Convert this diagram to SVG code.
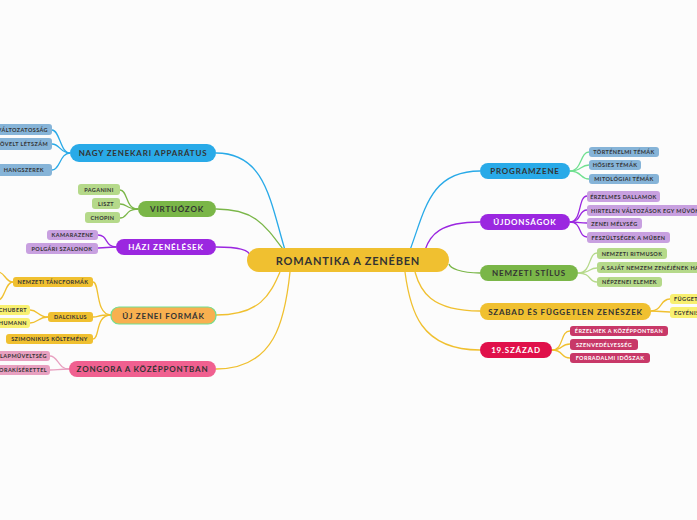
<svg xmlns="http://www.w3.org/2000/svg" width="697" height="520" viewBox="0 0 697 520">
<style>
text{font-family:Lato,"Liberation Sans",sans-serif;font-weight:bold;text-anchor:middle;dominant-baseline:central}
.m{font-size:8px;letter-spacing:0.8px;fill:#333}
.s{font-size:5.5px;letter-spacing:0.4px;fill:#333}
.st{text-anchor:start}
.en{text-anchor:end}
.w{fill:#fff}
.c{fill:none;stroke-width:1.3}
</style>
<rect width="697" height="520" fill="#fcfcfc"/>
<g id="connectors">
<path class="c" stroke="#29aae8" d="M216,153 C265,153 270,200 285,250"/>
<path class="c" stroke="#7ab648" d="M216,209 C255,209 265,225 285,252"/>
<path class="c" stroke="#9b27e0" d="M216,247 C240,247 250,250 250,256"/>
<path class="c" stroke="#f0c030" d="M216,315 C260,315 270,295 280,272"/>
<path class="c" stroke="#f0c030" d="M216,369 C275,369 285,320 290,272"/>
<path class="c" stroke="#29aae8" d="M480,171 C430,171 425,210 410,250"/>
<path class="c" stroke="#9b27e0" d="M480,222 C440,222 430,235 425,250"/>
<path class="c" stroke="#7ab648" d="M480,273 C460,273 450,268 449,264"/>
<path class="c" stroke="#f0c030" d="M480,311 C430,311 420,290 415,272"/>
<path class="c" stroke="#f0c030" d="M480,350 C420,350 410,310 405,272"/>
<g stroke="#29aae8" class="c"><path d="M70,153 C60,153 60,130 52,130"/><path d="M70,153 C60,153 60,144 52,144"/><path d="M70,153 C60,153 60,170 52,170"/></g>
<g stroke="#7ab648" class="c"><path d="M138,209 C125,209 128,190 120,190"/><path d="M138,209 C125,209 128,204 120,204"/><path d="M138,209 C125,209 128,218 120,218"/></g>
<g stroke="#9b27e0" class="c"><path d="M116,247 C105,247 108,235 98,235"/><path d="M116,247 C105,247 108,248 98,248"/></g>
<g stroke="#f0c030" class="c"><path d="M111,315 C95,315 100,282 93,282"/><path d="M111,315 C95,315 100,317 93,317"/><path d="M111,315 C95,315 100,339 93,339"/><path d="M13,282 C5,282 5,272 -2,272"/><path d="M13,282 C5,282 5,300 -2,300"/><path d="M48,317 C38,317 38,310 30,310"/><path d="M48,317 C38,317 38,323 30,323"/></g>
<g stroke="#e8a0c0" class="c"><path d="M69,369 C58,369 58,356 50,356"/><path d="M69,369 C58,369 58,370 50,370"/></g>
<g stroke="#70e090" class="c"><path d="M570,171 C582,171 580,152 589,152"/><path d="M570,171 C582,171 580,165 589,165"/><path d="M570,171 C582,171 580,179 589,179"/></g>
<g stroke="#9b27e0" class="c"><path d="M570,222 C582,222 578,196 587,196"/><path d="M570,222 C582,222 578,210 587,210"/><path d="M570,222 C582,222 578,223 587,223"/><path d="M570,222 C582,222 578,237 587,237"/></g>
<g stroke="#b5d98a" class="c"><path d="M578,273 C592,273 588,253 597,253"/><path d="M578,273 C592,273 588,268 597,268"/><path d="M578,273 C592,273 588,282 597,282"/></g>
<g stroke="#f0c030" class="c"><path d="M651,311 C662,311 660,299 670,299"/><path d="M651,311 C662,311 660,312 670,312"/><path d="M552,350 C564,350 560,331 570,331"/><path d="M552,350 C564,350 560,344 570,344"/><path d="M552,350 C564,350 560,358 570,358"/></g>
</g>
<g id="center"><rect x="247" y="248" width="202" height="24" rx="12" fill="#f0c030"/><text class="m" x="348" y="260" style="font-size:11px">ROMANTIKA A ZENÉBEN</text></g>
<g id="nagy"><rect x="70" y="144" width="146" height="18" rx="9" fill="#29aae8"/><text class="m" x="143" y="153">NAGY ZENEKARI APPARÁTUS</text>
<rect x="-10" y="124" width="62" height="11" rx="3" fill="#86b4d8"/><text class="s en" x="48" y="129.5">VÁLTOZATOSSÁG</text>
<rect x="-10" y="138" width="62" height="12" rx="3" fill="#86b4d8"/><text class="s en" x="48" y="144">MEGNÖVELT LÉTSZÁM</text>
<rect x="-10" y="164" width="62" height="12" rx="3" fill="#86b4d8"/><text class="s en" x="44" y="170">HANGSZEREK</text></g>
<g id="virtuozok"><rect x="138" y="201" width="78" height="16" rx="8" fill="#7ab648"/><text class="m" x="177" y="209">VIRTUÓZOK</text>
<rect x="78" y="184" width="42" height="11" rx="3" fill="#b5d98a"/><text class="s" x="99" y="189.5">PAGANINI</text>
<rect x="92" y="198" width="28" height="11" rx="3" fill="#b5d98a"/><text class="s" x="106" y="203.5">LISZT</text>
<rect x="85" y="212" width="35" height="11" rx="3" fill="#b5d98a"/><text class="s" x="102.5" y="217.5">CHOPIN</text></g>
<g id="hazi"><rect x="116" y="239" width="100" height="16" rx="8" fill="#9b27e0"/><text class="m w" x="166" y="247">HÁZI ZENÉLÉSEK</text>
<rect x="47" y="230" width="51" height="10" rx="3" fill="#c8a0e0"/><text class="s" x="72.5" y="235">KAMARAZENE</text>
<rect x="26" y="243" width="72" height="11" rx="3" fill="#c8a0e0"/><text class="s" x="62" y="248.5">POLGÁRI SZALONOK</text></g>
<g id="uj"><rect x="111" y="307" width="105" height="17" rx="8" fill="#f8b050" stroke="#70e090" stroke-width="1.2"/><text class="m" x="163.5" y="315.5">ÚJ ZENEI FORMÁK</text>
<rect x="13" y="277" width="80" height="10" rx="3" fill="#f0c030"/><text class="s" x="53" y="282">NEMZETI TÁNCFORMÁK</text>
<rect x="48" y="312" width="45" height="10" rx="3" fill="#f0c030"/><text class="s" x="70.5" y="317">DALCIKLUS</text>
<rect x="-10" y="305" width="40" height="10" rx="3" fill="#f8f070"/><text class="s en" x="27" y="310">SCHUBERT</text>
<rect x="-10" y="318" width="40" height="10" rx="3" fill="#f8f070"/><text class="s en" x="27" y="323">SCHUMANN</text>
<rect x="6" y="334" width="87" height="10" rx="3" fill="#f0c030"/><text class="s" x="49.5" y="339">SZIMONIKUS KÖLTEMÉNY</text></g>
<g id="zongora"><rect x="69" y="361" width="147" height="16" rx="8" fill="#f06090"/><text class="m" x="142.5" y="369">ZONGORA A KÖZÉPPONTBAN</text>
<rect x="-10" y="351" width="60" height="10" rx="3" fill="#e8a0c0"/><text class="s en" x="47" y="356">ÁLLAPMŰVELTSÉG</text>
<rect x="-10" y="365" width="60" height="10" rx="3" fill="#e8a0c0"/><text class="s en" x="47" y="370">ZONGORAKÍSÉRETTEL</text></g>
<g id="program"><rect x="480" y="163" width="90" height="16" rx="8" fill="#29aae8"/><text class="m" x="525" y="171">PROGRAMZENE</text>
<rect x="589" y="147" width="70" height="10" rx="3" fill="#86b4d8"/><text class="s" x="624" y="152">TÖRTÉNELMI TÉMÁK</text>
<rect x="589" y="160" width="52" height="10" rx="3" fill="#86b4d8"/><text class="s" x="615" y="165">HŐSIES TÉMÁK</text>
<rect x="589" y="174" width="70" height="10" rx="3" fill="#86b4d8"/><text class="s" x="624" y="179">MITOLÓGIAI TÉMÁK</text></g>
<g id="ujdonsagok"><rect x="480" y="214" width="90" height="16" rx="8" fill="#9b27e0"/><text class="m w" x="525" y="222">ÚJDONSÁGOK</text>
<rect x="587" y="191" width="73" height="11" rx="3" fill="#c8a0e0"/><text class="s" x="623.5" y="196.5">ÉRZELMES DALLAMOK</text>
<rect x="587" y="205" width="130" height="11" rx="3" fill="#c8a0e0"/><text class="s st" x="591" y="210.5">HIRTELEN VÁLTOZÁSOK EGY MŰVÖN BELÜL</text>
<rect x="587" y="218" width="55" height="11" rx="3" fill="#c8a0e0"/><text class="s" x="614.5" y="223.5">ZENEI MÉLYSÉG</text>
<rect x="587" y="232" width="83" height="11" rx="3" fill="#c8a0e0"/><text class="s" x="628.5" y="237.5">FESZÜLTSÉGEK A MŰBEN</text></g>
<g id="nemzeti"><rect x="480" y="265" width="98" height="16" rx="8" fill="#7ab648"/><text class="m" x="529" y="273">NEMZETI STÍLUS</text>
<rect x="597" y="248" width="70" height="11" rx="3" fill="#b5d98a"/><text class="s" x="632" y="253.5">NEMZETI RITMUSOK</text>
<rect x="597" y="262" width="130" height="11" rx="3" fill="#b5d98a"/><text class="s st" x="601" y="267.5">A SAJÁT NEMZEM ZENÉJÉNEK HASZNÁLATA</text>
<rect x="597" y="277" width="65" height="10" rx="3" fill="#b5d98a"/><text class="s" x="629.5" y="282">NÉPZENEI ELEMEK</text></g>
<g id="szabad"><rect x="480" y="303" width="171" height="17" rx="8" fill="#f0c030"/><text class="m" x="565.5" y="311.5">SZABAD ÉS FÜGGETLEN ZENÉSZEK</text>
<rect x="670" y="294" width="60" height="10" rx="3" fill="#f8f070"/><text class="s st" x="674" y="299">FÜGGETLENSÉG</text>
<rect x="670" y="307" width="60" height="11" rx="3" fill="#f8f070"/><text class="s st" x="674" y="312.5">EGYÉNISÉG</text></g>
<g id="szazad"><rect x="480" y="342" width="72" height="16" rx="8" fill="#e0104a"/><text class="m w" x="516" y="350">19.SZÁZAD</text>
<rect x="570" y="326" width="98" height="10" rx="3" fill="#c83868"/><text class="s w" x="619" y="331">ÉRZELMEK A KÖZÉPPONTBAN</text>
<rect x="570" y="339" width="68" height="11" rx="3" fill="#c83868"/><text class="s w" x="604" y="344.5">SZENVEDÉLYESSÉG</text>
<rect x="570" y="353" width="80" height="10" rx="3" fill="#c83868"/><text class="s w" x="610" y="358">FORRADALMI IDŐSZAK</text></g>
</svg>
